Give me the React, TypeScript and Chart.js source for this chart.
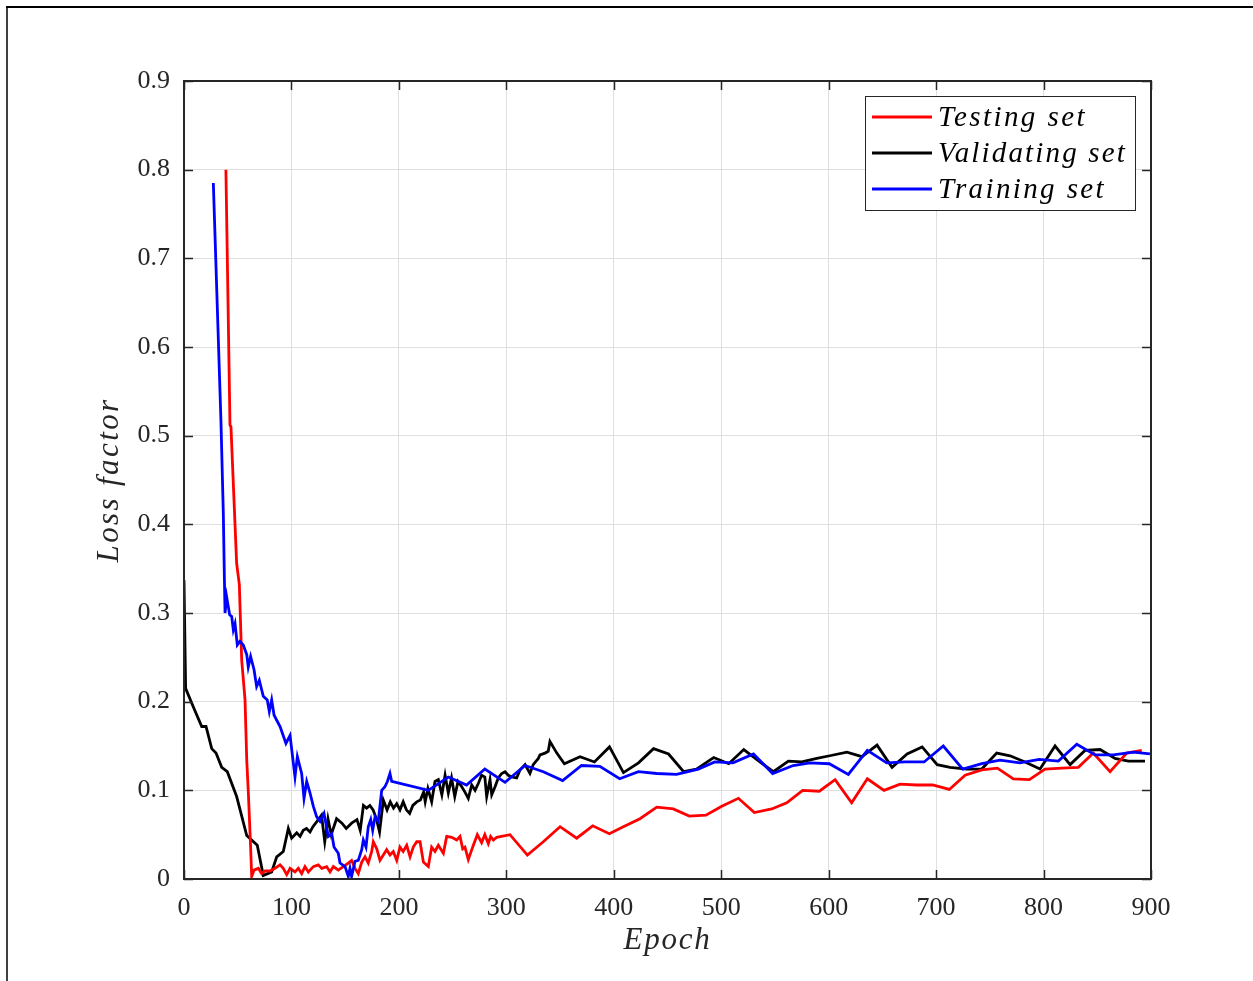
import React, { useEffect, useRef } from "react";
import { Chart, registerables } from "chart.js";

Chart.register(...registerables);

// ---- Data -------------------------------------------------------------
const testingEpoch = [
  39, 42.8, 43.7, 49, 51.5, 53.7, 56.8, 58.4, 59.9, 62, 63, 65.2, 69.2, 72.3, 75.4, 80, 84.7, 89.4, 92.4, 95.6,
  98.7, 103.3, 106.4, 109.5, 112.6, 115.7, 120.4, 125, 128.2, 132.8, 135.9, 139, 143.6, 148.3, 152.9, 156, 159.2,
  162.2, 165.4, 168.5, 171.5, 174.7, 176.2, 179.4, 182.4, 185.5, 188.6, 191.7, 194.8, 198, 201, 204, 207.3, 210.4,
  213.4, 216.6, 219.7, 222.8, 227.4, 230.5, 233.6, 236.7, 241.4, 244.5, 249.2, 253.8, 256.9, 259.4, 261.5, 264.6,
  269.3, 273, 277, 280, 283.2, 285.4, 287.9, 291, 303.4, 319.6, 334.4, 350, 365.5, 380.4, 395.9, 408.9, 424.4, 440,
  455.4, 470.3, 485.8, 500.5, 516, 530.8, 547, 561, 575.8, 591.3, 606, 621.4, 636, 651.5, 666.4, 682, 696.8, 712.3,
  727, 742.5, 757, 771.9, 786.8, 801.4, 816.9, 832.4, 846.3, 861.9, 877.4, 891.4,
];
const testingLoss = [
  0.8, 0.512, 0.51, 0.356, 0.332, 0.247, 0.202, 0.134, 0.097, 0.036, 0.003, 0.01, 0.012, 0.006, 0.009, 0.009, 0.012,
  0.016, 0.012, 0.005, 0.012, 0.008, 0.012, 0.006, 0.014, 0.008, 0.014, 0.016, 0.012, 0.014, 0.008, 0.014, 0.01,
  0.014, 0.018, 0.021, 0.012, 0.006, 0.019, 0.025, 0.018, 0.031, 0.042, 0.034, 0.021, 0.027, 0.033, 0.027, 0.031,
  0.021, 0.036, 0.031, 0.038, 0.025, 0.036, 0.042, 0.042, 0.019, 0.014, 0.036, 0.031, 0.038, 0.029, 0.048, 0.047,
  0.044, 0.048, 0.034, 0.036, 0.022, 0.038, 0.05, 0.041, 0.05, 0.04, 0.048, 0.044, 0.047, 0.05, 0.027, 0.042, 0.059,
  0.046, 0.06, 0.051, 0.059, 0.068, 0.081, 0.079, 0.071, 0.072, 0.082, 0.091, 0.075, 0.079, 0.086, 0.1, 0.099,
  0.112, 0.086, 0.113, 0.1, 0.107, 0.106, 0.106, 0.101, 0.117, 0.123, 0.125, 0.113, 0.112, 0.124, 0.125, 0.126,
  0.142, 0.121, 0.142, 0.145,
];

const validatingEpoch = [
  0, 1.5, 8.7, 16.5, 20.5, 25.8, 29.8, 35.1, 40.3, 49, 58.4, 68.2, 73.8, 81.6, 86.3, 92.4, 97.1, 100.2, 104.9, 108,
  111, 114, 117.3, 120, 125, 128, 131, 134, 137, 142, 147, 151, 156, 161, 164, 167, 170, 173, 176, 179, 182, 185.5,
  189, 192, 195, 198, 201, 204, 207, 210, 213, 216.6, 220, 223, 224.5, 227, 230.5, 233.6, 236.7, 240, 243, 246, 249,
  252, 255, 258.5, 261.5, 264.6, 267.8, 270.9, 274, 277, 280, 281.7, 284.8, 286.4, 289.5, 292.5, 295.7, 298.8,
  301.8, 305, 309.6, 312.7, 317.4, 322, 325, 329.8, 331.3, 336, 339, 340.6, 347, 354, 368.6, 382, 396, 409, 423, 437,
  451, 465, 477, 493, 507, 521, 536, 548.5, 562.5, 575, 589, 601, 617, 631, 645, 659, 673, 687, 701, 713, 728.5,
  742.5, 756.4, 768.8, 782.8, 796.7, 810.7, 824.7, 838.6, 852.6, 866.5, 878.9, 894.4,
];
const validatingLoss = [
  0.337, 0.215, 0.194, 0.172, 0.172, 0.147, 0.142, 0.126, 0.121, 0.093, 0.049, 0.038, 0.004, 0.008, 0.025, 0.031,
  0.057, 0.046, 0.052, 0.048, 0.055, 0.057, 0.053, 0.059, 0.067, 0.072, 0.042, 0.068, 0.05, 0.068, 0.063, 0.057,
  0.063, 0.067, 0.055, 0.083, 0.08, 0.083, 0.078, 0.068, 0.053, 0.089, 0.078, 0.087, 0.08, 0.085, 0.078, 0.087,
  0.078, 0.074, 0.083, 0.087, 0.089, 0.098, 0.087, 0.102, 0.087, 0.11, 0.112, 0.095, 0.117, 0.097, 0.114, 0.093,
  0.11, 0.104, 0.098, 0.091, 0.106, 0.1, 0.108, 0.117, 0.115, 0.093, 0.112, 0.095, 0.104, 0.114, 0.119, 0.121,
  0.117, 0.115, 0.114, 0.123, 0.129, 0.119, 0.129, 0.136, 0.14, 0.142, 0.144, 0.155, 0.142, 0.13, 0.138, 0.132,
  0.149, 0.12, 0.131, 0.147, 0.141, 0.121, 0.124, 0.137, 0.13, 0.146, 0.132, 0.121, 0.133, 0.132, 0.136, 0.139,
  0.143, 0.138, 0.151, 0.126, 0.141, 0.149, 0.129, 0.126, 0.124, 0.124, 0.142, 0.139, 0.132, 0.124, 0.15, 0.129,
  0.145, 0.146, 0.136, 0.133, 0.133,
];

const trainingEpoch = [
  27.3, 34.4, 36.6, 37.5, 38.2, 39.7, 42.5, 44.4, 45.9, 47.5, 49.6, 52, 55.2, 58.4, 59.8, 62, 65.2, 67.6, 70.1, 73.8,
  77.5, 79.4, 81.6, 83.8, 86.3, 89.4, 94.9, 98.7, 103.3, 105.5, 109.5, 111.7, 114.2, 117.3, 120.4, 123.5, 126.6,
  130.3, 134.3, 137.5, 139.6, 143.6, 145.2, 149.9, 152.9, 154.5, 156, 159.2, 162.2, 165.4, 166.9, 169.4, 171.5,
  173.8, 175.6, 177.8, 180.8, 184, 187, 189.3, 191.7, 193.3, 227.4, 246, 263, 280, 298.8, 317.4, 334.4, 352.4, 370,
  387, 405.5, 422.9, 440, 458.5, 478.7, 494, 511, 530, 547.9, 567, 582.6, 600.6, 618.3, 636, 654, 671, 688.8, 706.7,
  724.8, 742.5, 759.5, 778, 796, 813.8, 830.9, 848, 865, 883.6, 899,
];
const trainingLoss = [
  0.785, 0.516, 0.412, 0.345, 0.3, 0.318, 0.298, 0.296, 0.281, 0.288, 0.264, 0.268, 0.264, 0.253, 0.239, 0.251,
  0.236, 0.217, 0.224, 0.206, 0.202, 0.189, 0.202, 0.185, 0.179, 0.172, 0.153, 0.162, 0.115, 0.138, 0.119, 0.091,
  0.11, 0.097, 0.082, 0.07, 0.065, 0.074, 0.048, 0.051, 0.036, 0.029, 0.018, 0.014, 0.003, 0.012, 0.003, 0.02,
  0.021, 0.033, 0.044, 0.036, 0.059, 0.067, 0.055, 0.07, 0.065, 0.1, 0.104, 0.11, 0.119, 0.11, 0.1, 0.115, 0.106,
  0.124, 0.109, 0.128, 0.121, 0.111, 0.128, 0.127, 0.113, 0.121, 0.119, 0.118, 0.124, 0.132, 0.131, 0.141, 0.119,
  0.128, 0.131, 0.13, 0.118, 0.145, 0.131, 0.132, 0.132, 0.15, 0.124, 0.13, 0.134, 0.131, 0.135, 0.133, 0.152,
  0.14, 0.14, 0.143, 0.141,
];

const seriesLabels = ["Testing set", "Validating set", "Training set"];
const seriesColors = ["#ff0000", "#000000", "#0000ff"];

const epochTicks = [0, 100, 200, 300, 400, 500, 600, 700, 800, 900];
const lossTicks = [0, 0.1, 0.2, 0.3, 0.4, 0.5, 0.6, 0.7, 0.8, 0.9];

const xTitle = "Epoch";
const yTitle = "Loss factor";

// ---- Layout / style ---------------------------------------------------
const W = 1253;
const H = 981;
const AREA = { left: 184, top: 81, right: 1151, bottom: 879 };
const AXIS_COLOR = "#262626";
const GRID_COLOR = "rgb(223,223,223)";
const SERIF = "'Liberation Serif', 'Times New Roman', serif";
const TICK_LEN = 9;
const LINE_W = 2.8;

function fitText(ctx: CanvasRenderingContext2D, text: string, target: number) {
  (ctx as any).letterSpacing = "0px";
  const natural = ctx.measureText(text).width;
  const sp = (target - natural) / text.length;
  (ctx as any).letterSpacing = `${sp}px`;
  return target;
}

const framePlugin = {
  id: "frame",
  beforeDraw(chart: any) {
    const { ctx } = chart;
    ctx.save();
    ctx.fillStyle = "#ffffff";
    ctx.fillRect(0, 0, W, H);
    ctx.restore();
  },
  afterDraw(chart: any) {
    const { ctx, chartArea: a, scales } = chart;
    const xs = scales.x;
    const ys = scales.y;
    ctx.save();

    // inward tick marks on all four sides
    ctx.strokeStyle = AXIS_COLOR;
    ctx.lineWidth = 1.5;
    ctx.beginPath();
    for (const t of epochTicks) {
      const px = Math.round(xs.getPixelForValue(t)) + 0.5;
      ctx.moveTo(px, a.bottom);
      ctx.lineTo(px, a.bottom - TICK_LEN);
      ctx.moveTo(px, a.top);
      ctx.lineTo(px, a.top + TICK_LEN);
    }
    for (const t of lossTicks) {
      const py = Math.round(ys.getPixelForValue(t)) + 0.5;
      ctx.moveTo(a.left, py);
      ctx.lineTo(a.left + TICK_LEN, py);
      ctx.moveTo(a.right, py);
      ctx.lineTo(a.right - TICK_LEN, py);
    }
    ctx.stroke();

    // axes box
    ctx.lineWidth = 2;
    ctx.strokeRect(a.left, a.top, a.right - a.left, a.bottom - a.top);

    // axis titles
    ctx.fillStyle = AXIS_COLOR;
    ctx.font = `italic 31px ${SERIF}`;
    ctx.textBaseline = "alphabetic";
    ctx.textAlign = "left";
    const xw = fitText(ctx, xTitle, 88);
    ctx.fillText(xTitle, (a.left + a.right) / 2 - xw / 2, 949);

    ctx.save();
    ctx.translate(118, (a.top + a.bottom) / 2);
    ctx.rotate(-Math.PI / 2);
    const yw = fitText(ctx, yTitle, 165);
    ctx.fillText(yTitle, -yw / 2, 0);
    ctx.restore();

    // legend
    const lg = { left: 865, top: 96, right: 1135, bottom: 210 };
    ctx.fillStyle = "#ffffff";
    ctx.fillRect(lg.left, lg.top, lg.right - lg.left, lg.bottom - lg.top);
    ctx.strokeStyle = AXIS_COLOR;
    ctx.lineWidth = 1;
    ctx.strokeRect(lg.left + 0.5, lg.top + 0.5, lg.right - lg.left, lg.bottom - lg.top);
    const rowY = [117, 153, 189];
    const widths = [149, 189, 168];
    ctx.font = `italic 29px ${SERIF}`;
    seriesLabels.forEach((label, i) => {
      ctx.strokeStyle = seriesColors[i];
      ctx.lineWidth = LINE_W;
      ctx.beginPath();
      ctx.moveTo(872, rowY[i]);
      ctx.lineTo(932, rowY[i]);
      ctx.stroke();
      ctx.fillStyle = "#000000";
      ctx.textBaseline = "middle";
      fitText(ctx, label, widths[i]);
      ctx.fillText(label, 938, rowY[i] + 1);
    });
    (ctx as any).letterSpacing = "0px";

    // figure border (top and left edges)
    ctx.strokeStyle = "#000000";
    ctx.lineWidth = 2;
    ctx.beginPath();
    ctx.moveTo(6, 7);
    ctx.lineTo(W, 7);
    ctx.stroke();
    ctx.lineWidth = 1.5;
    ctx.beginPath();
    ctx.moveTo(7, 6);
    ctx.lineTo(7, H);
    ctx.stroke();

    ctx.restore();
  },
};

function toPoints(xs: number[], ys: number[]) {
  return xs.map((x, i) => ({ x, y: ys[i] }));
}

export default function App() {
  const canvasRef = useRef<HTMLCanvasElement | null>(null);

  useEffect(() => {
    const canvas = canvasRef.current;
    if (!canvas) return;
    const series = [
      toPoints(testingEpoch, testingLoss),
      toPoints(validatingEpoch, validatingLoss),
      toPoints(trainingEpoch, trainingLoss),
    ];
    const drawOrder = [1, 2, 0];
    const chart = new Chart(canvas, {
      type: "line",
      data: {
        datasets: series.map((data, i) => ({
          label: seriesLabels[i],
          data,
          borderColor: seriesColors[i],
          backgroundColor: seriesColors[i],
          borderWidth: LINE_W,
          pointRadius: 0,
          tension: 0,
          fill: false,
          order: drawOrder[i],
        })),
      },
      options: {
        responsive: false,
        devicePixelRatio: 1,
        animation: false,
        parsing: true,
        layout: { padding: { top: AREA.top, right: W - AREA.right, left: 0, bottom: 0 } },
        plugins: { legend: { display: false }, tooltip: { enabled: false } },
        scales: {
          x: {
            type: "linear",
            min: 0,
            max: 900,
            afterFit: (s: any) => {
              s.height = H - AREA.bottom;
            },
            afterBuildTicks: (s: any) => {
              s.ticks = epochTicks.map((v) => ({ value: v }));
            },
            grid: { color: GRID_COLOR, lineWidth: 1, drawTicks: false },
            border: { display: false },
            ticks: {
              padding: 14,
              color: AXIS_COLOR,
              font: { family: SERIF, size: 26 },
              maxRotation: 0,
              autoSkip: false,
              callback: (v: any) => String(v),
            },
          },
          y: {
            type: "linear",
            min: 0,
            max: 0.9,
            afterFit: (s: any) => {
              s.width = AREA.left;
            },
            afterBuildTicks: (s: any) => {
              s.ticks = lossTicks.map((v) => ({ value: v }));
            },
            grid: { color: GRID_COLOR, lineWidth: 1, drawTicks: false },
            border: { display: false },
            ticks: {
              padding: 14,
              color: AXIS_COLOR,
              font: { family: SERIF, size: 26 },
              autoSkip: false,
              callback: (v: any) => String(Number(Number(v).toFixed(1))),
            },
          },
        },
      },
      plugins: [framePlugin],
    });
    return () => chart.destroy();
  }, []);

  return (
    <div style={{ position: "fixed", left: 0, top: 0, width: W, height: H, background: "#fff" }}>
      <canvas ref={canvasRef} width={W} height={H} style={{ display: "block", width: W, height: H }} />
    </div>
  );
}
